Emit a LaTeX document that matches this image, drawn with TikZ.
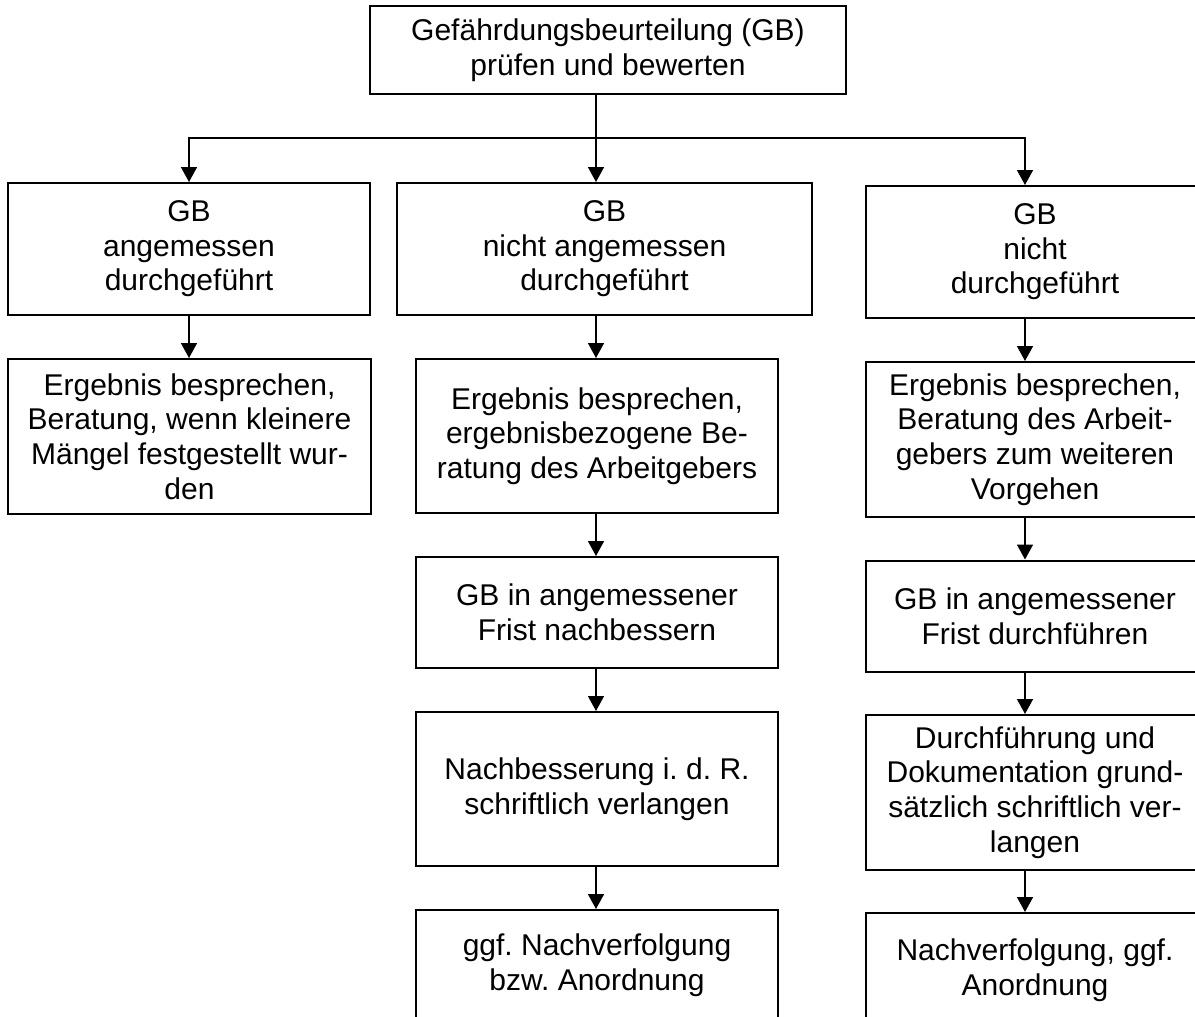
\documentclass[tikz,border=0pt]{standalone}
\usepackage{fontspec}
\setmainfont{Liberation Sans}
\usetikzlibrary{arrows.meta}
\frenchspacing
\begin{document}
\begin{tikzpicture}[x=0.5pt,y=-0.5pt,
  box/.style={draw, line width=1pt, align=center, inner sep=0pt, font=\fontsize{15pt}{17.3pt}\selectfont},
  arr/.style={line width=0.8pt, -{Triangle[length=7.5pt,width=8pt]}},
  ln/.style={line width=0.8pt}]
\useasboundingbox (0,0) rectangle (1195,1017);
\node[box, minimum width=238pt, minimum height=44pt] (top) at (608,50) {Gefährdungsbeurteilung (GB)\\prüfen und bewerten};
\node[box, minimum width=181pt, minimum height=66pt] (L1) at (189,249) {GB\\angemessen\\durchgeführt};
\node[box, minimum width=207.5pt, minimum height=66pt] (M1) at (604.5,249) {GB\\nicht angemessen\\durchgeführt};
\node[box, minimum width=169pt, minimum height=66pt] (R1) at (1035,252) {GB\\nicht\\durchgeführt};
\node[box, minimum width=181.5pt, minimum height=77.5pt] (L2) at (189.5,436.5) {Ergebnis besprechen,\\Beratung, wenn kleinere\\Mängel festgestellt wur-\\den};
\node[box, minimum width=181pt, minimum height=77pt] (M2) at (597,436) {Ergebnis besprechen,\\ergebnisbezogene Be-\\ratung des Arbeitgebers};
\node[box, minimum width=181pt, minimum height=55.5pt] (M3) at (597,612.5) {GB in angemessener\\Frist nachbessern};
\node[box, minimum width=181pt, minimum height=77pt] (M4) at (597,789) {Nachbesserung i. d. R.\\schriftlich verlangen};
\node[box, minimum width=181pt, minimum height=55pt] (M5) at (597,965) {ggf. Nachverfolgung\\bzw. Anordnung};
\node[box, minimum width=169pt, minimum height=77.5pt] (R2) at (1035,439.5) {Ergebnis besprechen,\\Beratung des Arbeit-\\gebers zum weiteren\\Vorgehen};
\node[box, minimum width=169pt, minimum height=55.5pt] (R3) at (1035,616) {GB in angemessener\\Frist durchführen};
\node[box, minimum width=169pt, minimum height=77.5pt] (R4) at (1035,792.5) {Durchführung und\\Dokumentation grund-\\sätzlich schriftlich ver-\\langen};
\node[box, minimum width=169pt, minimum height=57pt] (R5) at (1035,970) {Nachverfolgung, ggf.\\Anordnung};
\coordinate (mx) at (596,0);
\coordinate (rx) at (1025,0);
\coordinate (br) at (596,138);
\draw[ln] (top.south -| mx) -- (br);
\draw[arr] (br) -| (L1.north);
\draw[arr] (br) -- (M1.north -| mx);
\draw[arr] (br) -| (R1.north -| rx);
\draw[arr] (L1.south) -- (L1.south |- L2.north);
\draw[arr] (M1.south -| mx) -- (M2.north -| mx);
\draw[arr] (M2.south -| mx) -- (M3.north -| mx);
\draw[arr] (M3.south -| mx) -- (M4.north -| mx);
\draw[arr] (M4.south -| mx) -- (M5.north -| mx);
\draw[arr] (R1.south -| rx) -- (R2.north -| rx);
\draw[arr] (R2.south -| rx) -- (R3.north -| rx);
\draw[arr] (R3.south -| rx) -- (R4.north -| rx);
\draw[arr] (R4.south -| rx) -- (R5.north -| rx);
\end{tikzpicture}
\end{document}
